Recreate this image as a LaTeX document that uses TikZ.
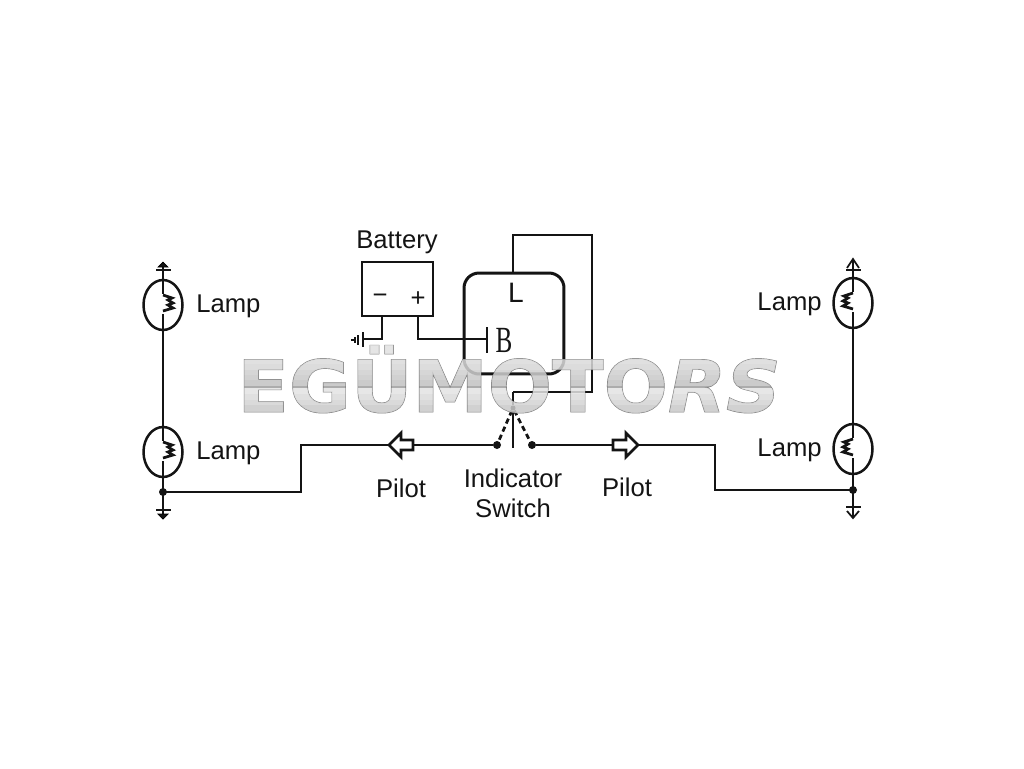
\documentclass[tikz,border=0pt]{standalone}
\usepackage{fontspec}
\setmainfont{Liberation Sans}
\newfontfamily\serifB{Liberation Serif}
\newfontfamily\markfont{DejaVu Sans}
\usetikzlibrary{arrows}
\usetikzlibrary{shapes}
\definecolor{wire}{gray}{.08}
% letters are stroked and become the clip of the grey bands painted after them
\newcommand{\bandedtext}[1]{\special{pdf:code q 5 Tr 0.5 w 0.38 G}#1\special{pdf:code 0 Tr}\special{pdf:content
 .88 g -600 30 640 14 re f
 .86 g -600 27 640 3 re f
 .84 g -600 24 640 3 re f
 .81 g -600 21 640 3 re f
 .79 g -600 18 640 3 re f
 .76 g -600 15 640 3 re f
 .62 g -600 13.4 640 1.6 re f
 .89 g -600 10 640 3.4 re f
 .86 g -600 7 640 3 re f
 .83 g -600 4 640 3 re f
 .79 g -600 -4 640 8 re f}\special{pdf:code Q}}
\tikzset{
 wireline/.style={draw=wire,line width=.055cm},
 lamp/.style={ellipse,draw=wire,line width=.05cm,inner sep=0pt,minimum width=.78cm,minimum height=1cm},
 tag/.style={text=wire,font=\fontsize{14.6}{17}\selectfont,align=center,inner sep=0pt},
 contact/.style={circle,fill=wire,inner sep=0pt,minimum size=.16cm},
 pilotarrow/.style={wireline,fill=white,line join=miter},
}
% coil of a lamp, #1 first point, #2 side (1 right, -1 left)
\newcommand{\lampcoil}[2]{
 \draw[wireline] (#1) -- ++(#2*9,3) -- ++(-#2*4,2) -- ++(#2*5,3) -- ++(-#2*5,2) -- ++(#2*5,3) -- ++(-#2*10,3);
}
\begin{document}
\begin{tikzpicture}[x=.02cm,y=-.02cm]
 \useasboundingbox (0,0) rectangle (1024,768);

 % left side
 \node[lamp] (lampA) at (163,305) {};
 \node[lamp] (lampB) at (163,452) {};
 \node[tag,anchor=west] (lampAtag) at (196,306) {Lamp};
 \node[tag,anchor=west] (lampBtag) at (196,453) {Lamp};
 \coordinate (gndA) at (163,262);
 \coordinate (gndB) at (163,519);
 \node[contact] (joinL) at (163,492) {};
 \draw[wireline] (gndA) -- (lampA.north);
 \draw[wireline] (lampA.south) -- (lampB.north);
 \draw[wireline] (lampB.south) -- (joinL.center) -- (gndB);
 \draw[wireline] (lampA.north) -- ++(0,15);
 \draw[wireline] (lampA.south) -- ++(0,-17);
 \draw[wireline] (lampB.north) -- ++(0,15);
 \draw[wireline] (lampB.south) -- ++(0,-17);
 \lampcoil{163,295}{1}
 \lampcoil{163,442}{1}
 \draw[wireline] (156,270) -- (171,270);
 \draw[fill=wire] (158,267) -- (163,262) -- (168,267) -- cycle;
 \draw[wireline] (156,510) -- (171,510);
 \draw[fill=wire] (158,514) -- (163,519) -- (168,514) -- cycle;

 % right side
 \node[lamp] (lampC) at (853,303) {};
 \node[lamp] (lampD) at (853,449) {};
 \node[tag,anchor=east] (lampCtag) at (822,304) {Lamp};
 \node[tag,anchor=east] (lampDtag) at (822,450) {Lamp};
 \coordinate (gndC) at (853,260);
 \coordinate (gndD) at (853,518);
 \node[contact] (joinR) at (853,490) {};
 \draw[wireline] (gndC) -- (lampC.north);
 \draw[wireline] (lampC.south) -- (lampD.north);
 \draw[wireline] (lampD.south) -- (joinR.center) -- (gndD);
 \draw[wireline] (lampC.north) -- ++(0,15);
 \draw[wireline] (lampC.south) -- ++(0,-17);
 \draw[wireline] (lampD.north) -- ++(0,15);
 \draw[wireline] (lampD.south) -- ++(0,-17);
 \lampcoil{853,293}{-1}
 \lampcoil{853,439}{-1}
 \draw[wireline] (846,270) -- (861,270);
 \draw[wireline,line width=.035cm] (847,268) -- (853,259) -- (859,268);
 \draw[wireline] (846,507) -- (861,507);
 \draw[wireline,line width=.035cm] (847,511) -- (853,518) -- (859,511);

 % battery
 \node[tag] (batterytag) at (397,242) {Battery};
 \node[draw=wire,line width=.05cm,minimum width=1.42cm,minimum height=1.08cm,inner sep=0pt] (battery) at (397.5,289) {};
 \node[tag] (minus) at (380,299) {−};
 \node[tag] (plus) at (418,299) {+};
 \coordinate (earth) at (363,339);
 \coordinate (feed) at (487,339);
 \draw[wireline] (battery.south -| minus) ++(2,0) |- (earth);
 \draw[wireline] (battery.south -| plus) |- (feed);
 \draw[wireline] (363,332) -- (363,347);
 \draw[wireline,line width=.035cm] (358,335) -- (358,345);
 \draw[wireline,line width=.035cm] (355,337) -- (355,343);
 \draw[wireline,line width=.035cm] (351,340) -- (355,340);
 \draw[wireline] (487,327) -- (487,353);
 \node[tag,xscale=.68,font=\serifB\fontsize{21}{21}\selectfont] (btag) at (504,340) {B};

 % flasher
 \node[draw=wire,line width=.06cm,rounded corners=.3cm,minimum width=2cm,minimum height=2.02cm,inner sep=0pt] (flasher) at (514,323.5) {};
 \node[tag,font=\fontsize{16}{16}\selectfont] (ltag) at (516,293) {L};
 \coordinate (corner) at (592,235);
 \coordinate (tap) at (513,392);
 \coordinate (topwire) at (513,235);
 \draw[wireline] (flasher.north -| tap) -- (topwire) -- (corner) |- (tap);

 % switch
 \node[contact,minimum size=.1cm] (swivel) at (513,408) {};
 \node[contact] (contactL) at (497,445) {};
 \node[contact] (contactR) at (532,445) {};
 \coordinate (switchend) at (513,448);
 \draw[wireline] (tap) -- (swivel) -- (switchend);
 \draw[wireline,densely dashed] (swivel) -- (contactL);
 \draw[wireline,densely dashed] (swivel) -- (contactR);
 \node[tag] (switchtag) at (513,493) {Indicator\\Switch};

 % pilots
 \coordinate (stepL) at (301,446);
 \coordinate (stepR) at (715,445);
 \draw[wireline] (contactL) -- (stepL |- contactL) -- (stepL) |- (joinL.center);
 \draw[wireline] (contactR) -- (stepR) |- (joinR.center);
 \draw[pilotarrow] (389,445) -- (401,433) -- (401,440) -- (413,440) -- (413,450) -- (401,450) -- (401,457) -- cycle;
 \draw[pilotarrow] (638,445) -- (626,433) -- (626,440) -- (613,440) -- (613,450) -- (626,450) -- (626,457) -- cycle;
 \node[tag] (pilotL) at (401,488) {Pilot};
 \node[tag] (pilotR) at (627,487) {Pilot};

 % watermark over everything
 \node[opacity=.85,xscale=1.05,inner sep=0pt,anchor=base,font=\markfont\bfseries\fontsize{41}{41}\selectfont] (watermark) at (509,412) {\bandedtext{EGÜMOTO{\itshape RS}}};
\end{tikzpicture}
\end{document}
